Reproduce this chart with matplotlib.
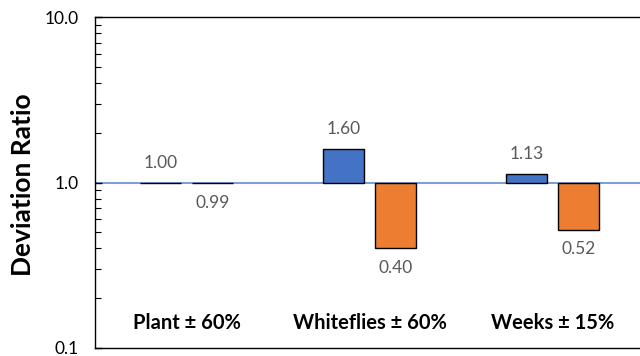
import matplotlib
matplotlib.use("Agg")
import matplotlib.pyplot as plt
import matplotlib.transforms as mtransforms
from matplotlib.ticker import FixedLocator, LogLocator, NullFormatter
import numpy as np

plt.rcParams['font.family'] = ['Lato', 'DejaVu Sans']

categories = ["Plant ± 60%", "Whiteflies ± 60%", "Weeks ± 15%"]
increase_ratio = [1.00, 1.60, 1.13]
decrease_ratio = [0.99, 0.40, 0.52]
y_ticks = [0.1, 1.0, 10.0]
y_tick_labels = ["0.1", "1.0", "10.0"]

blue = "#4472C4"
orange = "#ED7D31"
label_gray = "#595959"

fig = plt.figure(figsize=(6.4, 3.56), dpi=100)
W, H = 640, 356
ax = fig.add_axes([95 / W, 8 / H, (644.5 - 95) / W, (348 - 17) / H])

x = np.arange(len(categories))
width = 0.224
offset = 0.142

base = 1.0
inc = np.array(increase_ratio)
dec = np.array(decrease_ratio)

ax.axhline(base, color="#6E96D2", linewidth=1.3, zorder=1.5)
ax.bar(x - offset, inc - base, width, bottom=base, color=blue,
       edgecolor="black", linewidth=1.0, zorder=2)
ax.bar(x + offset, dec - base, width, bottom=base, color=orange,
       edgecolor="black", linewidth=1.0, zorder=2)

ax.set_yscale("log")
ax.set_ylim(0.1, 10)
ax.set_xlim(-0.5, len(categories) - 0.5)

# value labels: above bars that rise, below bars that fall
for xi, v in zip(x - offset, inc):
    ax.annotate(f"{v:.2f}", (xi, max(v, base)), xytext=(0, 14 if v >= base else -14),
                textcoords="offset points", ha="center", va="center",
                fontsize=12.5, color=label_gray)
for xi, v in zip(x + offset, dec):
    ax.annotate(f"{v:.2f}", (xi, min(v, base)), xytext=(0, -14 if v < base else 14),
                textcoords="offset points", ha="center", va="center",
                fontsize=12.5, color=label_gray)

# category names sit inside the plot near the bottom
trans = mtransforms.blended_transform_factory(ax.transData, ax.transAxes)
for xi, name in zip(x, categories):
    ax.text(xi, 0.0755, name, transform=trans, ha="center", va="center",
            fontsize=14.5, fontweight="bold", color="black")

ax.set_xticks([])
ax.yaxis.set_major_locator(FixedLocator(y_ticks))
ax.set_yticklabels(y_tick_labels)
ax.yaxis.set_minor_locator(LogLocator(base=10, subs=np.arange(2, 10)))
ax.yaxis.set_minor_formatter(NullFormatter())
ax.tick_params(axis="y", which="major", direction="in", length=5, width=1,
               labelsize=12.5, pad=12, colors="black")
ax.tick_params(axis="y", which="minor", direction="in", length=4, width=0.8)
for sp in ax.spines.values():
    sp.set_color("black")
    sp.set_linewidth(1.0)

fig.text(23 / W, 1 - 185 / H, "Deviation Ratio", rotation=90, ha="center",
         va="center", fontsize=19, fontweight="bold")

fig.savefig("out.png", dpi=100)
